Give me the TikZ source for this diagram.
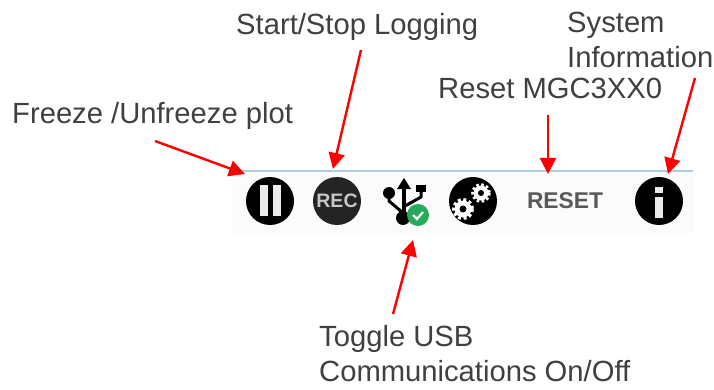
\documentclass[tikz,border=0pt]{standalone}
\usepackage{fontspec}
\setmainfont{Liberation Sans}
\usetikzlibrary{arrows.meta}
\definecolor{arrowred}{RGB}{255,0,0}
\definecolor{labelgrey}{RGB}{64,64,64}
\definecolor{stripblue}{RGB}{176,204,226}
\definecolor{stripbg}{RGB}{251,251,251}
\definecolor{recdark}{RGB}{36,36,36}
\definecolor{okgreen}{RGB}{38,170,90}
\tikzset{
  x=1pt,y=-1pt,
  lab/.style={inner sep=0pt,font=\fontsize{29.2}{35}\selectfont,text=labelgrey,align=left},
  icon/.style={circle,fill=black,minimum size=48pt,inner sep=0pt},
  callout/.style={draw=arrowred,line width=2.4pt,-{Triangle[length=16pt,width=16pt]}},
  whitebar/.style={fill=white!92!black}
}
\begin{document}
\begin{tikzpicture}
\useasboundingbox (0,0) rectangle (714,390);
\fill[white] (0,0) rectangle (714,390);
\fill[stripbg] (232,171) rectangle (693,233);
\draw[stripblue,line width=1.2pt] (232,171) -- (693,171);
% labels
\node[lab,anchor=west] (freeze) at (12,116) {Freeze /Unfreeze plot};
\node[lab,anchor=west] (startstop) at (236,27) {Start/Stop Logging};
\node[lab,anchor=west] (reset) at (438,88) {Reset MGC3XX0};
\node[lab,anchor=north west] (sysinfo) at (567,12) {System\\Information};
\node[lab,anchor=north west] (usb) at (319,325) {Toggle USB\\Communications On/Off};
% pause
\node[icon] (pause) at (270,201) {};
\fill[whitebar] (260,185) rectangle (268,216);
\fill[whitebar] (273,185) rectangle (281,216);
% rec
\node[icon,fill=recdark,text=white!78!black,font=\bfseries\fontsize{19.5}{20}\selectfont] (rec) at (337,201) {REC};
% usb
\coordinate (usbicon) at (404,206);
\draw[black,line width=3.6pt] (404,186) -- (404,220);
\fill[black] (404,178) -- (411,189) -- (397,189) -- cycle;
\draw[black,line width=3pt,line join=round] (389,193) -- (389,201) -- (403,213);
\draw[black,line width=3pt,line join=round] (421,190) -- (421,197) -- (405,206);
\fill[black] (389,193) circle (6);
\fill[black] (416,185) rectangle (426,192);
\fill[black] (403,218) circle (7);
\node[circle,fill=okgreen,minimum size=22pt,inner sep=0pt] (ok) at (418,215) {};
\draw[white,line width=2.2pt] (413,215) -- (417,219) -- (423,212);
% gears
\node[icon] (gears) at (473,201) {};
\fill[white] (463,209) circle (8.5);
\draw[white,line width=3pt,dash pattern=on 3pt off 2.6pt] (463,209) circle (9.5);
\fill[black] (463,209) circle (3.5);
\fill[white] (481,193) circle (7.5);
\draw[white,line width=2.6pt,dash pattern=on 2.6pt off 2.4pt] (481,193) circle (8.5);
\fill[black] (481,193) circle (3);
% reset
\node[inner sep=0pt,font=\bfseries\fontsize{22.8}{24}\selectfont,text=black!65] (resetbtn) at (565,201) {RESET};
% info
\node[icon] (info) at (659,201) {};
\fill[whitebar] (655,187) rectangle (663,193);
\fill[whitebar] (655,197) rectangle (663,218);
% connector ends
\coordinate (f0) at (155,141); \coordinate (f1) at (245,174);
\coordinate (s0) at (361,50);  \coordinate (s1) at (333,169);
\coordinate (r0) at (548,115); \coordinate (r1) at (548,174);
\coordinate (i0) at (695,78);  \coordinate (i1) at (668,174);
\coordinate (u0) at (393,314); \coordinate (u1) at (413,240);
\draw[callout] (f0) -- (f1);
\draw[callout] (s0) -- (s1);
\draw[callout] (r0) -- (r1);
\draw[callout] (i0) -- (i1);
\draw[callout] (u0) -- (u1);
\end{tikzpicture}
\end{document}
